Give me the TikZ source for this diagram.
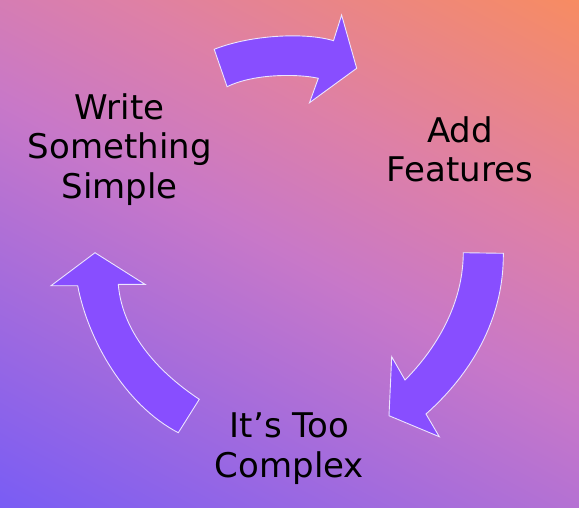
\documentclass[tikz,border=0pt]{standalone}
\usepackage{fontspec}
\setmainfont{DejaVu Sans}
\definecolor{bgblue}{RGB}{120,92,245}
\definecolor{bgmid}{RGB}{200,120,200}
\definecolor{bgpink}{RGB}{222,128,166}
\definecolor{bgorange}{RGB}{248,140,96}
\definecolor{arrowviolet}{RGB}{136,78,255}
% the filled path spans the range 25bp..75bp of a TikZ shading
\pgfdeclarehorizontalshading{bgdiag}{100bp}{color(0bp)=(bgblue); color(25bp)=(bgblue); color(50bp)=(bgmid); color(60bp)=(bgpink); color(75bp)=(bgorange); color(100bp)=(bgorange)}
\begin{document}
\begin{tikzpicture}[x=1pt,y=-1pt,
  cyclearrow/.style={fill=arrowviolet, draw=white!85!arrowviolet, line width=0.9pt, line join=miter},
  steplabel/.style={font=\fontsize{34}{39.5}\selectfont, align=center, inner sep=0pt, text=black}]
\useasboundingbox (0,0) rectangle (579,507);

% diagonal background gradient, blue at bottom left to orange at top right
\begin{scope}
  \clip (0,0) rectangle (579,507);
  \begin{scope}[transform canvas={rotate around={62:(289.5,253.5)}}]
    \shade[shading=bgdiag]
      (289.5-365,253.5-385) rectangle (289.5+365,253.5+385);
  \end{scope}
\end{scope}

% top arrow: towards "Add Features"
\path[cyclearrow] (214.2,49.3) .. controls (250,35) and (305,32) .. (333.5,40.7)
  -- (341.6,15) -- (356.7,68.3) -- (309.5,102.7) -- (318.3,78.3)
  .. controls (300,74) and (255,73) .. (227.1,86.7) -- cycle;

% right arrow: towards "It's Too Complex"
\path[cyclearrow] (463.3,252.7) -- (503.3,253.3)
  .. controls (504,320) and (470,375) .. (426,414)
  -- (439.3,436.7) -- (389,415.7) -- (391.7,356.7) -- (405,380)
  .. controls (430,355) and (463,310) .. (463.3,252.7) -- cycle;

% left arrow: back to "Write Something Simple"
\path[cyclearrow] (95,252.7) -- (145,284.3) -- (118.3,284.3)
  .. controls (122,330) and (155,370) .. (199.3,399.3)
  -- (178.3,432.7)
  .. controls (125,405) and (88,340) .. (77.7,285.7)
  -- (51,285.7) -- cycle;

% labels, placed by the baseline of their last line
\node[steplabel, anchor=base] (write) at (119.7,198) {Write\\Something\\Simple};
\node[steplabel, anchor=base] (add) at (460,181.7) {Add\\Features};
\node[steplabel, anchor=base] (complex) at (289.5,477) {It’s Too\\Complex};
\end{tikzpicture}
\end{document}
